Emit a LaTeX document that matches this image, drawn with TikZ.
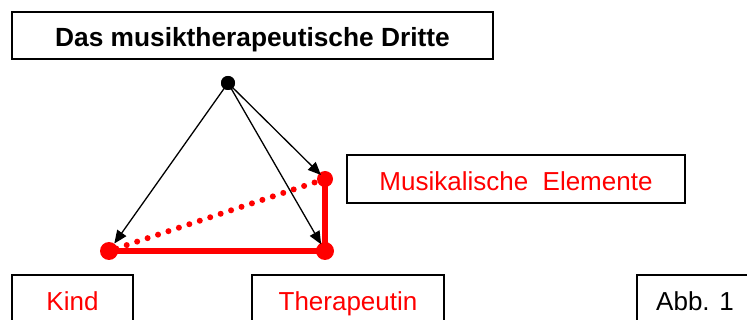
\documentclass[tikz,border=0pt]{standalone}
\usepackage{fontspec}
\setmainfont{Liberation Sans}
\usetikzlibrary{arrows.meta}
\definecolor{pured}{RGB}{255,0,0}
\begin{document}
\begin{tikzpicture}[x=1pt,y=-1pt,
  box/.style={draw=black, line width=1.5pt, rectangle, inner sep=0pt, align=center},
  lbl/.style={font=\fontsize{26}{30}\selectfont},
  reddot/.style={circle, fill=pured, inner sep=0pt, minimum size=#1},
  blackdot/.style={circle, fill=black, inner sep=0pt, minimum size=14pt},
  arr/.style={line width=1.3pt, -{Triangle[length=13pt,width=11pt]}},
  redline/.style={draw=pured, line width=6pt},
  reddotted/.style={draw=pured, line width=6pt, line cap=round, dash pattern=on 0pt off 11pt}
]
\useasboundingbox (0,0) rectangle (747,320);
\clip (0,0) rectangle (747,320);
\fill[white] (0,0) rectangle (747,320);

% boxes
\node[box, minimum width=481pt, minimum height=47pt, text height=23pt, text depth=0pt,
      font=\fontsize{26.3}{30}\selectfont\bfseries] (title) at (252.5,35.5) {Das musiktherapeutische Dritte};
\node[box, lbl, text=pured, minimum width=338pt, minimum height=48pt, text height=24pt, text depth=0pt] (musik) at (516,179) {Musikalische\ \ Elemente};
\node[box, lbl, text=pured, minimum width=121pt, minimum height=70pt, text height=20pt, text depth=18pt] (kind) at (72.5,310) {Kind};
\node[box, lbl, text=pured, minimum width=192pt, minimum height=70pt, text height=20pt, text depth=18pt] (thera) at (348,310) {Therapeutin};
\node[box, lbl, text=black, minimum width=116pt, minimum height=70pt, text height=20pt, text depth=18pt] (abb) at (695,310) {Abb. 1};

% tetrahedron points
\node[reddot=18pt] (bl) at (109,251) {};
\node[reddot=18pt] (br) at (325,251) {};
\node[reddot=16pt] (tr) at (325,179) {};

% red edges
\draw[redline] (bl.center) -- (br.center) -- (tr.center);
\draw[reddotted] (tr.center) -- (bl.center);

% apex and arrows
\node[blackdot] (apex) at (228,83) {};
\draw[arr] (apex.center) -- (bl);
\draw[arr, shorten >=-2.5pt] (apex.center) -- (tr);
\draw[arr, shorten >=-1.5pt] (apex.center) -- (br);
\node[blackdot] at (apex) {};
\end{tikzpicture}
\end{document}
